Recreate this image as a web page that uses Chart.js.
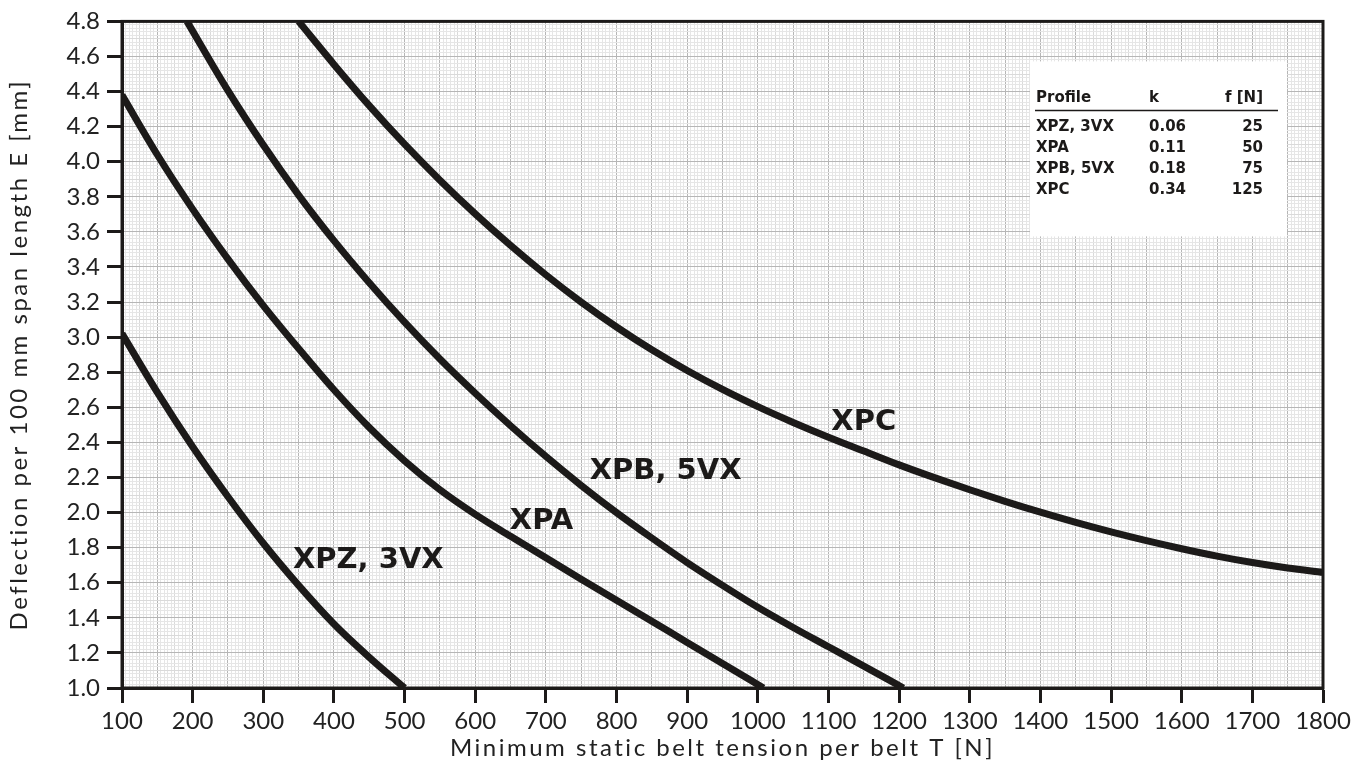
<!DOCTYPE html>
<html>
<head>
<meta charset="utf-8">
<title>Belt deflection chart</title>
<script src="https://cdn.jsdelivr.net/npm/chart.js@4.4.1/dist/chart.umd.min.js"></script>
<style>
  html, body { margin: 0; padding: 0; background: #fff; }
  #wrap { width: 1371px; height: 781px; }
</style>
</head>
<body>
<div id="wrap"><canvas id="chart"></canvas></div>
<script>
// values: tension T [N] -> deflection E [mm]
const xpzT = [100, 150, 200, 250, 300, 350, 400, 450, 500]
const xpzE = [3.02, 2.685, 2.375, 2.09, 1.825, 1.585, 1.365, 1.175, 1.0]

const xpaT = [100, 150, 200, 250, 300, 350, 400, 450, 500, 550, 600, 650, 700, 750, 800, 850, 900, 950, 1008]
const xpaE = [4.38, 4.04, 3.73, 3.445, 3.18, 2.935, 2.70, 2.485, 2.295, 2.13, 1.99, 1.865, 1.742, 1.62, 1.50, 1.38, 1.26, 1.14, 1.0]

const xpbT = [192, 250, 300, 350, 400, 450, 500, 550, 600, 650, 700, 750, 800, 850, 900, 950, 1000, 1050, 1100, 1150, 1206]
const xpbE = [4.8, 4.405, 4.095, 3.81, 3.55, 3.31, 3.085, 2.875, 2.68, 2.495, 2.32, 2.155, 2.00, 1.855, 1.715, 1.585, 1.46, 1.345, 1.235, 1.125, 1.0]

const xpcT = [350, 400, 450, 500, 550, 600, 650, 700, 750, 800, 850, 900, 950, 1000, 1050, 1100, 1150, 1200, 1250, 1300, 1350, 1400, 1450, 1500, 1550, 1600, 1650, 1700, 1750, 1800]
const xpcE = [4.8, 4.555, 4.32, 4.10, 3.895, 3.703, 3.523, 3.355, 3.20, 3.058, 2.928, 2.81, 2.702, 2.604, 2.514, 2.43, 2.351, 2.272, 2.199, 2.13, 2.064, 2.002, 1.944, 1.89, 1.84, 1.794, 1.752, 1.715, 1.684, 1.659]

const curveNames = ['XPZ, 3VX', 'XPA', 'XPB, 5VX', 'XPC']

// table in the upper right
const profiles = ['XPZ, 3VX', 'XPA', 'XPB, 5VX', 'XPC']
const kValues = ['0.06', '0.11', '0.18', '0.34']
const fValues = ['25', '50', '75', '125']

const xTitle = 'Minimum static belt tension per belt T [N]'
const yTitle = 'Deflection per 100 mm span length E [mm]'

// where the curve names sit (data coordinates of the text baseline start)
const nameAnchors = [[342, 1.685], [649, 1.906], [762, 2.19], [1104, 2.47]]

const ink = '#1c1a19'
const tickFont = { family: 'Lato', size: 24 }
const boldFamily = '"DejaVu Sans", sans-serif'

const pts = (xs, ys) => xs.map((x, i) => ({ x: x, y: ys[i] }))

const curve = (name, xs, ys) => ({
  label: name,
  data: pts(xs, ys),
  borderColor: ink,
  borderWidth: 7,
  pointRadius: 0,
  cubicInterpolationMode: 'monotone',
  borderCapStyle: 'butt',
  fill: false,
  clip: 0
})

// grid-only axes (mm paper look)
const gridAxis = (pos, step, color, z) => ({
  type: 'linear',
  position: pos,
  min: pos === 'bottom' ? 100 : 1.0,
  max: pos === 'bottom' ? 1800 : 4.8,
  z: z,
  ticks: { display: false, stepSize: step, maxTicksLimit: 2000 },
  grid: { color: color, lineWidth: 1, drawTicks: false },
  border: { display: false },
  afterFit: s => { if (pos === 'bottom') s.height = 0; else s.width = 0 }
})

const extras = {
  id: 'extras',
  beforeDatasetsDraw(chart) {
    const { ctx, chartArea: a } = chart
    // table box
    const bx = a.right - 293, by = a.top + 40
    ctx.save()
    ctx.fillStyle = '#fff'
    ctx.fillRect(bx, by, 257, 175)
    ctx.fillStyle = ink
    ctx.font = 'bold 15px ' + boldFamily
    ctx.textBaseline = 'alphabetic'
    ctx.textAlign = 'left'
    ctx.fillText('Profile', bx + 6, by + 41)
    ctx.fillText('k', bx + 119, by + 41)
    ctx.textAlign = 'right'
    ctx.fillText('f [N]', bx + 233, by + 41)
    ctx.strokeStyle = ink
    ctx.lineWidth = 1.5
    ctx.beginPath()
    ctx.moveTo(bx + 5, by + 49)
    ctx.lineTo(bx + 248, by + 49)
    ctx.stroke()
    profiles.forEach((p, i) => {
      const y = by + 70 + i * 21
      ctx.textAlign = 'left'
      ctx.fillText(p, bx + 6, y)
      ctx.fillText(kValues[i], bx + 119, y)
      ctx.textAlign = 'right'
      ctx.fillText(fValues[i], bx + 233, y)
    })
    ctx.restore()
  },
  afterDatasetsDraw(chart) {
    const { ctx, chartArea: a, scales } = chart
    ctx.save()
    // curve names
    ctx.fillStyle = ink
    ctx.font = 'bold 29px ' + boldFamily
    ctx.textAlign = 'left'
    ctx.textBaseline = 'alphabetic'
    curveNames.forEach((n, i) => {
      const [tx, ty] = nameAnchors[i]
      ctx.fillText(n, scales.x.getPixelForValue(tx), scales.y.getPixelForValue(ty))
    })
    // frame
    ctx.strokeStyle = ink
    ctx.lineWidth = 3
    ctx.strokeRect(a.left, a.top, a.right - a.left, a.bottom - a.top)
    ctx.restore()

    // axis titles
    ctx.save()
    ctx.fillStyle = '#222'
    ctx.font = '24px Lato'
    ctx.letterSpacing = '2.5px'
    ctx.textAlign = 'center'
    ctx.textBaseline = 'middle'
    ctx.fillText(xTitle, (a.left + a.right) / 2, a.bottom + 60)
    ctx.translate(19, (a.top + a.bottom) / 2)
    ctx.rotate(-Math.PI / 2)
    ctx.fillText(yTitle, 0, 0)
    ctx.restore()
  }
}

Chart.defaults.font.family = 'Lato'
Chart.defaults.color = '#222'

new Chart(document.getElementById('chart'), {
  type: 'line',
  data: {
    datasets: [
      curve('XPZ, 3VX', xpzT, xpzE),
      curve('XPA', xpaT, xpaE),
      curve('XPB, 5VX', xpbT, xpbE),
      curve('XPC', xpcT, xpcE)
    ]
  },
  options: {
    responsive: true,
    maintainAspectRatio: false,
    animation: false,
    layout: { padding: { top: 17, right: 48, left: 0, bottom: 0 } },
    plugins: { legend: { display: false }, tooltip: { enabled: false } },
    scales: {
      xMinor: gridAxis('bottom', 5, '#e6e6e6', -3),
      xMid: gridAxis('bottom', 25, '#dadada', -2),
      xMajor: gridAxis('bottom', 50, '#b6b6b6', -1),
      yMinor: gridAxis('left', 0.02, '#e6e6e6', -3),
      yMid: gridAxis('left', 0.1, '#dadada', -2),
      yMajor: gridAxis('left', 0.2, '#b6b6b6', -1),
      x: {
        type: 'linear',
        min: 100,
        max: 1800,
        ticks: {
          stepSize: 100,
          font: tickFont,
          color: '#222',
          padding: 4,
          maxRotation: 0,
          callback: v => String(v)
        },
        grid: { drawOnChartArea: false, tickLength: 15, tickWidth: 3, tickColor: ink },
        border: { color: ink, width: 3 },
        afterFit: s => { s.height = 93 }
      },
      y: {
        type: 'linear',
        min: 1.0,
        max: 4.8,
        ticks: {
          stepSize: 0.2,
          font: tickFont,
          color: '#222',
          padding: 7,
          callback: v => v.toFixed(1)
        },
        grid: { drawOnChartArea: false, tickLength: 15, tickWidth: 3, tickColor: ink },
        border: { color: ink, width: 3 },
        afterFit: s => { s.width = 122 }
      }
    }
  },
  plugins: [extras]
})
</script>
</body>
</html>
